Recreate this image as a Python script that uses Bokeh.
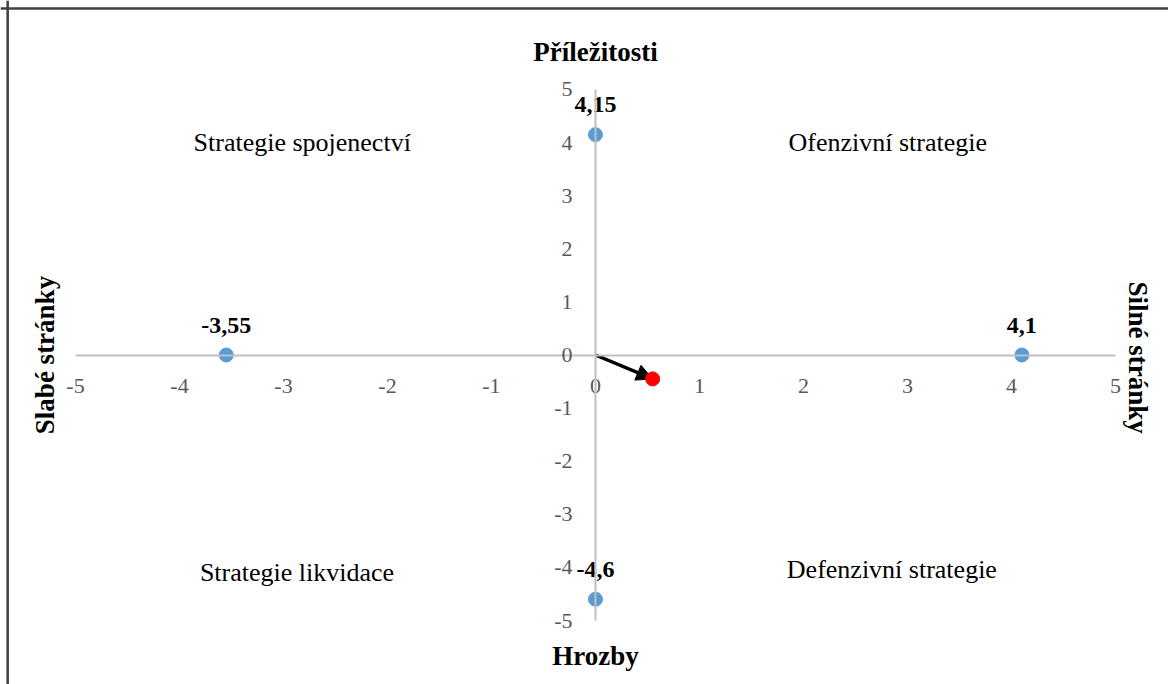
import math
from bokeh.plotting import figure
from bokeh.models import (LinearAxis, FixedTicker, Range1d, ColumnDataSource,
                          Arrow, NormalHead, Span, Label)
from bokeh.core.properties import value
from bokeh.embed import file_html
from bokeh.resources import INLINE

# ---- data ----
point_x = [0, 4.1, 0, -3.55]
point_y = [4.15, 0, -4.6, 0]
point_labels = ["4,15", "4,1", "-4,6", "-3,55"]
result_x = [0.55]
result_y = [-0.45]
ticks = [-5, -4, -3, -2, -1, 0, 1, 2, 3, 4, 5]
tick_labels = ["-5", "-4", "-3", "-2", "-1", "0", "1", "2", "3", "4", "5"]
quad_labels = ["Strategie spojenectví", "Ofenzivní strategie",
               "Strategie likvidace", "Defenzivní strategie"]
quad_x = [-2.82, 2.81, -2.87, 2.85]
quad_y = [4.0, 4.0, -4.1, -4.03]
title_top = "Příležitosti"
title_bottom = "Hrozby"
title_left = "Slabé stránky"
title_right = "Silné stránky"

FONT = "Liberation Serif"
W, H = 1168, 684

p = figure(width=W, height=H, output_backend="svg", toolbar_location=None,
           x_range=Range1d(-5.721, 5.51), y_range=Range1d(-6.205, 6.676),
           x_axis_type=None, y_axis_type=None,
           min_border=0, min_border_left=0, min_border_right=0,
           min_border_top=0, min_border_bottom=0)
p.xgrid.visible = False
p.ygrid.visible = False
p.outline_line_color = None
p.background_fill_color = "white"
p.border_fill_color = "white"

# chart-area border (left & top visible in the picture)
p.add_layout(Span(location=-5.652, dimension="height",
                  line_color="#404040", line_width=2.5))
p.add_layout(Span(location=6.525, dimension="width",
                  line_color="#404040", line_width=2.5))

def style_axis(ax):
    ax.ticker = FixedTicker(ticks=ticks)
    ax.major_label_overrides = {t: s for t, s in zip(ticks, tick_labels)}
    ax.bounds = (ticks[0], ticks[-1])
    ax.axis_line_color = "#bfbfbf"
    ax.axis_line_width = 2
    ax.major_tick_line_color = None
    ax.minor_tick_line_color = None
    ax.major_label_text_font = FONT
    ax.major_label_text_font_size = "22px"
    ax.major_label_text_color = "#595959"
    ax.fixed_location = 0

xa = LinearAxis()
style_axis(xa)
xa.major_label_standoff = 18
p.add_layout(xa, "below")

ya = LinearAxis()
style_axis(ya)
ya.major_label_standoff = 17
p.add_layout(ya, "left")

# arrow from origin to result point
arrow = Arrow(x_start=0, y_start=0, x_end=result_x[0], y_end=result_y[0],
              line_color="black", line_width=3.5,
              end=NormalHead(size=16, fill_color="black", line_color="black"),
              level="underlay")
p.add_layout(arrow)

src = ColumnDataSource(dict(x=point_x, y=point_y, t=point_labels))
p.scatter("x", "y", source=src, size=14, fill_color="#5b9bd5",
          line_color="#5b9bd5")
p.text("x", "y", text="t", source=src, y_offset=-30,
       text_font=value(FONT), text_font_style="bold",
       text_font_size="24px", text_align="center", text_baseline="middle",
       text_color="black")

p.scatter(result_x, result_y, size=14, fill_color="#ff0000",
          line_color="#ff0000")

qsrc = ColumnDataSource(dict(x=quad_x, y=quad_y, t=quad_labels))
p.text("x", "y", text="t", source=qsrc, text_font=value(FONT),
       text_font_size="26px", text_align="center", text_baseline="middle",
       text_color="black")

def title(txt, x, y, angle=0.0):
    p.add_layout(Label(x=x, y=y, text=txt, angle=angle,
                       text_font=FONT, text_font_style="bold",
                       text_font_size="27px", text_align="center",
                       text_baseline="middle", text_color="black"))

title(title_top, 0, 5.70)
title(title_bottom, 0, -5.66)
title(title_left, -5.29, 0, math.pi / 2)
title(title_right, 5.22, -0.05, -math.pi / 2)

open("out.html", "w").write(file_html(p, INLINE))
